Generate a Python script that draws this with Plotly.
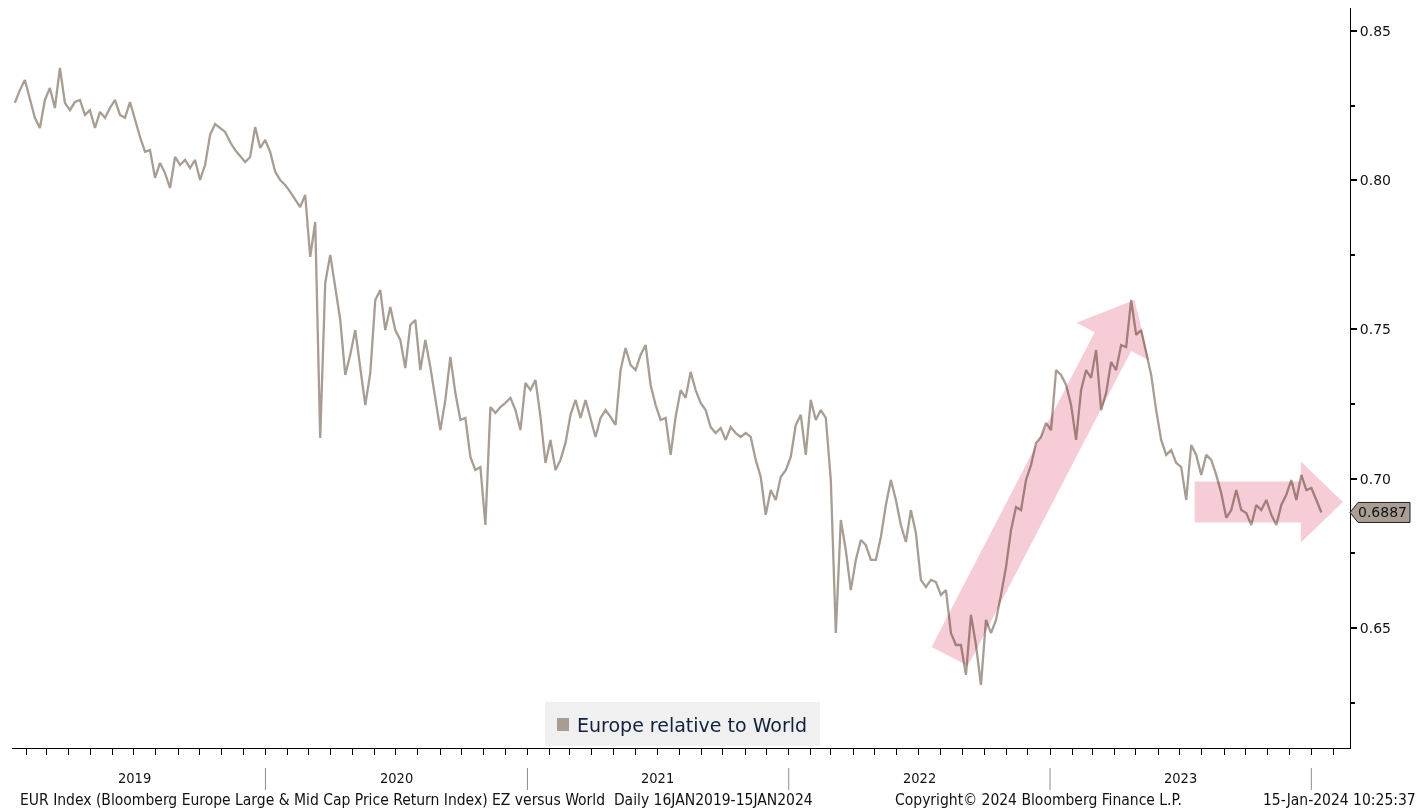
import pandas as pd
import plotly.graph_objects as go

# ---- data: Europe / World relative price ratio, weekly samples ----
START = "2019-01-16"
END = "2024-01-15"
VALUES = [
    0.8259, 0.8302, 0.8336, 0.8269, 0.8209, 0.8175, 0.8269, 0.8309, 0.8242, 0.8376,
    0.8259, 0.8235, 0.8262, 0.8269, 0.8219, 0.8235, 0.8175, 0.8229, 0.8209, 0.8242,
    0.8269, 0.8219, 0.8209, 0.8262, 0.8202, 0.8145, 0.8095, 0.8101, 0.8008, 0.8058,
    0.8024, 0.7974, 0.8078, 0.8051, 0.8068, 0.8041, 0.8068, 0.8001, 0.8051, 0.8152,
    0.8188, 0.8175, 0.8162, 0.8128, 0.8101, 0.8081, 0.8061, 0.8078, 0.8178, 0.8108,
    0.8135, 0.8095, 0.8028, 0.8001, 0.7984, 0.7961, 0.7934, 0.7910, 0.7951, 0.7743,
    0.7860, 0.7137, 0.7656, 0.7750, 0.7642, 0.7532, 0.7348, 0.7415, 0.7498, 0.7381,
    0.7247, 0.7354, 0.7599, 0.7632, 0.7498, 0.7575, 0.7498, 0.7465, 0.7371, 0.7515,
    0.7532, 0.7364, 0.7465, 0.7374, 0.7264, 0.7163, 0.7264, 0.7408, 0.7287, 0.7197,
    0.7204, 0.7073, 0.7029, 0.7039, 0.6845, 0.7240, 0.7220, 0.7240, 0.7254, 0.7271,
    0.7230, 0.7163, 0.7321, 0.7297, 0.7331, 0.7207, 0.7053, 0.7130, 0.7029, 0.7063,
    0.7120, 0.7214, 0.7264, 0.7204, 0.7264, 0.7197, 0.7140, 0.7204, 0.7230, 0.7207,
    0.7180, 0.7364, 0.7438, 0.7381, 0.7364, 0.7415, 0.7448, 0.7314, 0.7247, 0.7197,
    0.7204, 0.7080, 0.7207, 0.7297, 0.7271, 0.7358, 0.7297, 0.7254, 0.7230, 0.7173,
    0.7153, 0.7170, 0.7130, 0.7173, 0.7153, 0.7140, 0.7153, 0.7140, 0.7063, 0.7006,
    0.6879, 0.6962, 0.6929, 0.7006, 0.7029, 0.7073, 0.7180, 0.7214, 0.7080, 0.7264,
    0.7197, 0.7230, 0.7204, 0.6996, 0.6483, 0.6862, 0.6761, 0.6627, 0.6728, 0.6795,
    0.6778, 0.6728, 0.6728, 0.6805, 0.6912, 0.6996, 0.6929, 0.6845, 0.6788, 0.6895,
    0.6818, 0.6661, 0.6637, 0.6661, 0.6654, 0.6611, 0.6627, 0.6483, 0.6443, 0.6443,
    0.6343, 0.6544, 0.6443, 0.6309, 0.6527, 0.6483, 0.6527, 0.6611, 0.6704, 0.6828,
    0.6905, 0.6895, 0.6996, 0.7046, 0.7120, 0.7140, 0.7187, 0.7163, 0.7364, 0.7348,
    0.7314, 0.7247, 0.7130, 0.7297, 0.7364, 0.7338, 0.7431, 0.7230, 0.7287, 0.7391,
    0.7364, 0.7448, 0.7441, 0.7599, 0.7482, 0.7498, 0.7425, 0.7348, 0.7230, 0.7130,
    0.7080, 0.7096, 0.7053, 0.7039, 0.6929, 0.7113, 0.7080, 0.7013, 0.7080, 0.7063,
    0.7013, 0.6952, 0.6869, 0.6895, 0.6962, 0.6895, 0.6885, 0.6845, 0.6912, 0.6895,
    0.6929, 0.6879, 0.6845, 0.6912, 0.6946, 0.6996, 0.6929, 0.7013, 0.6962, 0.6969,
    0.6929, 0.6887,
]
YEAR_LABELS = ["2019", "2020", "2021", "2022", "2023"]
SERIES_NAME = "Europe relative to World"
FOOTER_LEFT = ("EUR Index (Bloomberg Europe Large & Mid Cap Price Return Index) "
               "EZ versus World  Daily 16JAN2019-15JAN2024")
FOOTER_MID = "Copyright\u00a9 2024 Bloomberg Finance L.P."
FOOTER_RIGHT = "15-Jan-2024 10:25:37"

# trend arrows: tail / tip in (date, value)
ARROWS = [
    dict(tail=("2022-08-14", 0.6405), tip=("2023-04-29", 0.7599), shaft=41, head_w=82, head_len=47),
    dict(tail=("2023-07-22", 0.6922), tip=("2024-02-14", 0.6922), shaft=41, head_w=81, head_len=42),
]

# ---- geometry ----
W, H = 1421, 810
ML, MR, MT, MB = 12, 71, 8, 62
PW, PH = W - ML - MR, H - MT - MB
X_RANGE = ["2019-01-12", "2024-02-24"]
Y_RANGE = [0.6098, 0.8577]

LINE_COLOR = "#a89d93"
PINK = "rgb(246,204,214)"
TEXT_DARK = "#111111"
NAVY = "#12203c"
NARROW = "DejaVu Sans Condensed, Liberation Sans Narrow, Liberation Sans, sans-serif"

dates = pd.date_range(START, END, periods=len(VALUES))
x0, x1 = pd.Timestamp(X_RANGE[0]), pd.Timestamp(X_RANGE[1])


def to_px(d, v):
    px = ML + (pd.Timestamp(d) - x0) / (x1 - x0) * PW
    py = MT + (Y_RANGE[1] - v) / (Y_RANGE[1] - Y_RANGE[0]) * PH
    return px, py


def to_paper(px, py):
    return (px - ML) / PW, (MT + PH - py) / PH


def arrow_path(a):
    tx, ty = to_px(*a["tail"])
    hx, hy = to_px(*a["tip"])
    L = ((hx - tx) ** 2 + (hy - ty) ** 2) ** 0.5
    ux, uy = (hx - tx) / L, (hy - ty) / L
    nx, ny = -uy, ux
    bx, by = hx - ux * a["head_len"], hy - uy * a["head_len"]
    s, h = a["shaft"] / 2, a["head_w"] / 2
    pts = [
        (tx + nx * s, ty + ny * s), (bx + nx * s, by + ny * s), (bx + nx * h, by + ny * h),
        (hx, hy),
        (bx - nx * h, by - ny * h), (bx - nx * s, by - ny * s), (tx - nx * s, ty - ny * s),
    ]
    pp = [to_paper(*p) for p in pts]
    return "M " + " L ".join(f"{x:.5f},{y:.5f}" for x, y in pp) + " Z"


fig = go.Figure()
fig.add_trace(go.Scatter(
    x=dates, y=VALUES, mode="lines", name=SERIES_NAME,
    line=dict(color=LINE_COLOR, width=2.3), showlegend=False, hoverinfo="skip",
))

shapes = []
for a in ARROWS:
    shapes.append(dict(type="path", xref="paper", yref="paper", path=arrow_path(a),
                       fillcolor=PINK, line=dict(width=0), layer="above"))

# year separators under the axis
for yr in ["2020", "2021", "2022", "2023", "2024"]:
    shapes.append(dict(type="line", xref="x", yref="paper", x0=f"{yr}-01-01", x1=f"{yr}-01-01",
                       y0=-20 / PH, y1=-42 / PH, line=dict(color="#8c8c8c", width=1)))

# legend box
lx0, lx1, ly0, ly1 = 545, 820, 702, 746
shapes.append(dict(type="rect", xref="paper", yref="paper",
                   x0=(lx0 - ML) / PW, x1=(lx1 - ML) / PW,
                   y0=(MT + PH - ly1) / PH, y1=(MT + PH - ly0) / PH,
                   fillcolor="#f0f0f0", line=dict(width=0)))
shapes.append(dict(type="rect", xref="paper", yref="paper",
                   x0=(557 - ML) / PW, x1=(569 - ML) / PW,
                   y0=(MT + PH - 731) / PH, y1=(MT + PH - 718) / PH,
                   fillcolor=LINE_COLOR, line=dict(width=0)))

# last-value tag on the right axis
last = VALUES[-1]
_, ly = to_px(END, last)
tag = [(1350, ly), (1358, ly - 10), (1410, ly - 10), (1410, ly + 10), (1358, ly + 10)]
tp = [to_paper(*p) for p in tag]
shapes.append(dict(type="path", xref="paper", yref="paper",
                   path="M " + " L ".join(f"{x:.5f},{y:.5f}" for x, y in tp) + " Z",
                   fillcolor="#a99e94", line=dict(color="#222222", width=1)))

annotations = []
for i, lab in enumerate(YEAR_LABELS):
    annotations.append(dict(xref="x", yref="paper", x=f"{lab}-07-02", y=-30 / PH,
                            text=lab, showarrow=False, xanchor="center", yanchor="middle",
                            font=dict(family=NARROW, size=14.5, color=TEXT_DARK)))
foot_y = -(800 - MT - PH) / PH
annotations += [
    dict(xref="paper", yref="paper", x=(18 - ML) / PW, y=foot_y, text=FOOTER_LEFT,
         showarrow=False, xanchor="left", yanchor="middle",
         font=dict(family=NARROW, size=15.5, color=TEXT_DARK)),
    dict(xref="paper", yref="paper", x=(893 - ML) / PW, y=foot_y, text=FOOTER_MID,
         showarrow=False, xanchor="left", yanchor="middle",
         font=dict(family=NARROW, size=15.5, color=TEXT_DARK)),
    dict(xref="paper", yref="paper", x=(1418 - ML) / PW, y=foot_y, text=FOOTER_RIGHT,
         showarrow=False, xanchor="right", yanchor="middle",
         font=dict(family=NARROW, size=15.5, color=TEXT_DARK)),
    dict(xref="paper", yref="paper", x=(575 - ML) / PW, y=(MT + PH - 725) / PH,
         text=SERIES_NAME, showarrow=False, xanchor="left", yanchor="middle",
         font=dict(family="DejaVu Sans", size=19, color=NAVY)),
    dict(xref="paper", yref="y", x=(1382 - ML) / PW, y=last, text=f"{last:.4f}",
         showarrow=False, xanchor="center", yanchor="middle",
         font=dict(family="DejaVu Sans", size=14, color=TEXT_DARK)),
]

fig.update_layout(
    width=W, height=H, margin=dict(l=ML, r=MR, t=MT, b=MB, pad=0),
    paper_bgcolor="white", plot_bgcolor="white",
    shapes=shapes, annotations=annotations, showlegend=False,
    xaxis=dict(type="date", range=X_RANGE, showgrid=False, zeroline=False,
               showline=True, linecolor="black", linewidth=1,
               ticks="outside", ticklen=6, tickcolor="black", tickwidth=1,
               tickmode="linear", tick0="2019-01-01", dtick="M12", showticklabels=False,
               minor=dict(ticks="outside", ticklen=6, tickcolor="black", tickwidth=1,
                          tickmode="linear", tick0="2019-01-01", dtick="M1", showgrid=False)),
    yaxis=dict(side="right", range=Y_RANGE, showgrid=False, zeroline=False,
               showline=True, linecolor="black", linewidth=1,
               ticks="outside", ticklen=6, tickwidth=2, tickcolor="black",
               tickmode="linear", tick0=0.65, dtick=0.05, tickformat=".2f",
               tickfont=dict(family="DejaVu Sans", size=14, color=TEXT_DARK),
               minor=dict(ticks="outside", ticklen=4, tickcolor="black",
                          tickmode="linear", tick0=0.625, dtick=0.05, showgrid=False)),
)

# the translucent trend arrows tint whatever lies beneath them
post = """
var gd = document.getElementById('{plot_id}');
function tint(){
  gd.querySelectorAll('.layer-above .shapelayer path').forEach(function(p){
    var i = p.getAttribute('data-index');
    if (i === '0' || i === '1') { p.style.mixBlendMode = 'multiply'; }
  });
}
tint();
gd.on('plotly_afterplot', tint);
"""
fig.write_html("out.html", post_script=post)
